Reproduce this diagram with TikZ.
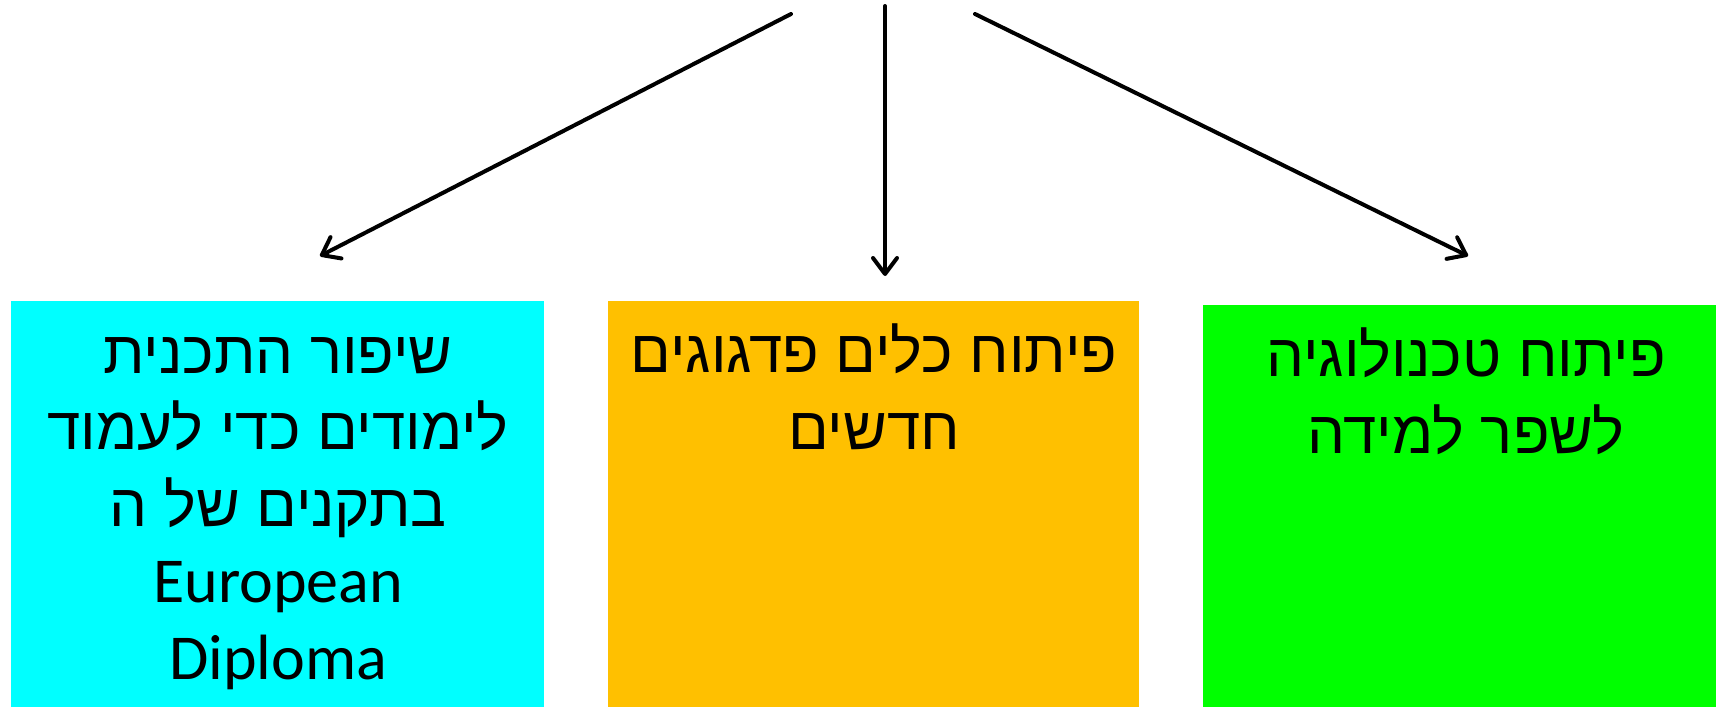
\documentclass[tikz,border=0pt]{standalone}
\usepackage{fontspec}
\usetikzlibrary{arrows.meta}
\TeXXeTstate=1
\newfontfamily\hebfont[Script=Hebrew]{Liberation Sans}
\newfontfamily\latfont{Carlito}
\definecolor{boxcyan}{RGB}{0,255,255}
\definecolor{boxorange}{RGB}{255,192,0}
\definecolor{boxgreen}{RGB}{0,255,0}
\tikzset{
  x=1pt, y=-1pt,
  box/.style={draw=none, inner sep=0pt, outer sep=0pt, anchor=north west},
  boxtext/.style={align=center, inner sep=0pt, anchor=base,
    font=\hebfont\fontsize{60}{76.5}\selectfont},
  conn/.style={line width=4pt, line cap=round, line join=round,
    -{Straight Barb[length=16pt, width=24pt, line width=4pt, round]}},
}
\newcommand{\heb}[1]{\beginR #1\endR}
\begin{document}
\begin{tikzpicture}
\useasboundingbox (0,0) rectangle (1716,707);
% boxes
\node[box, fill=boxcyan, minimum width=533pt, minimum height=406pt] (b1) at (11,301) {};
\node[box, fill=boxorange, minimum width=531pt, minimum height=406pt] (b2) at (608,301) {};
\node[box, fill=boxgreen, minimum width=513pt, minimum height=402pt] (b3) at (1203,305) {};
% texts (anchor base = baseline of the last line)
\node[boxtext] (t1) at (278,679) {\heb{שיפור התכנית}\\ \heb{לימודים כדי לעמוד}\\ \heb{בתקנים של ה}\\ {\latfont\fontsize{64}{76.5}\selectfont European}\\ {\latfont\fontsize{64}{76.5}\selectfont Diploma}};
\node[boxtext] (t2) at (874,449) {\heb{פיתוח כלים פדגוגים}\\ \heb{חדשים}};
\node[boxtext] (t3) at (1466,453) {\heb{פיתוח טכנולוגיה}\\ \heb{לשפר למידה}};
% connectors
\coordinate (s1) at (791,14);
\coordinate (s2) at (885,6);
\coordinate (s3) at (975,14);
\coordinate (e1) at (320,256);
\coordinate (e2) at (885,276);
\coordinate (e3) at (1468,256);
\draw[conn] (s1) -- (e1);
\draw[conn] (s2) -- (e2);
\draw[conn] (s3) -- (e3);
\end{tikzpicture}
\end{document}
